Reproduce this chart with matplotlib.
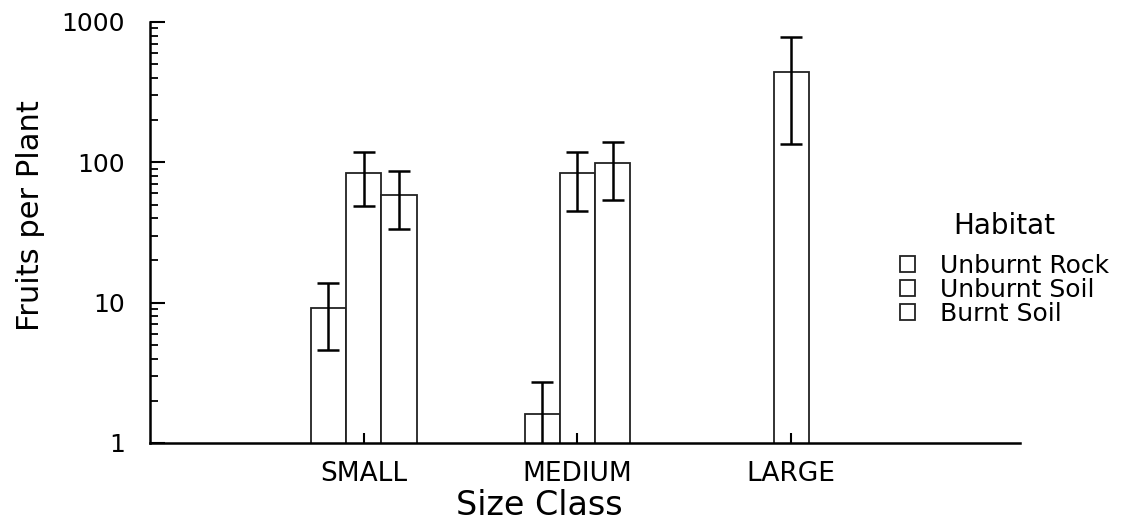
import numpy as np
import matplotlib
matplotlib.use('Agg')
import matplotlib.pyplot as plt

# size classes and habitats
size_classes = ['SMALL', 'MEDIUM', 'LARGE']
habitats = ['Unburnt Rock', 'Unburnt Soil', 'Burnt Soil']

# mean fruits per plant (nan = no plants of that class in that habitat)
rock_mean = [9.2, 1.62, np.nan]
soil_mean = [83.6, 83.6, 439.0]
burnt_mean = [58.9, 98.6, np.nan]

# error bar ends (lower, upper)
rock_lo = [4.6, 0.5, np.nan]
rock_hi = [13.8, 2.73, np.nan]
soil_lo = [49.0, 45.3, 134.6]
soil_hi = [118.0, 118.0, 779.0]
burnt_lo = [33.4, 54.0, np.nan]
burnt_hi = [86.8, 140.0, np.nan]


def main():
    plt.rcParams['font.family'] = 'DejaVu Sans'
    fig = plt.figure(figsize=(11.4, 5.26), dpi=100)
    ax = fig.add_axes([0.1316, 0.1578, 0.763, 0.8004])

    x = np.arange(1, len(size_classes) + 1)
    width = 0.165
    series = [
        (rock_mean, rock_lo, rock_hi, -width),
        (soil_mean, soil_lo, soil_hi, 0.0),
        (burnt_mean, burnt_lo, burnt_hi, width),
    ]

    handles = []
    for (mean, lo, hi, off), name in zip(series, habitats):
        mean = np.array(mean)
        ok = ~np.isnan(mean)
        bars = ax.bar(x[ok] + off, mean[ok], width=width,
                      facecolor='white', edgecolor='#222222', linewidth=1.3,
                      label=name, log=True)
        handles.append(bars)
        yerr = np.array([mean[ok] - np.array(lo)[ok], np.array(hi)[ok] - mean[ok]])
        ax.errorbar(x[ok] + off, mean[ok], yerr=yerr, fmt='none', ecolor='black',
                    elinewidth=1.8, capsize=8, capthick=1.8)

    ax.set_yscale('log')
    ax.set_ylim(1, 1000)
    ax.set_xlim(0, 4.07)

    ax.spines['top'].set_visible(False)
    ax.spines['right'].set_visible(False)
    ax.spines['left'].set_linewidth(1.8)
    ax.spines['bottom'].set_linewidth(1.8)

    ax.set_yticks([1, 10, 100, 1000])
    ax.set_yticklabels(['1', '10', '100', '1000'])
    ax.tick_params(axis='y', which='major', direction='in', length=11, width=1.5,
                   pad=18, labelsize=18, colors='black')
    ax.tick_params(axis='y', which='minor', direction='in', length=6, width=1.3)
    ax.set_xticks(x)
    ax.set_xticklabels(size_classes)
    ax.tick_params(axis='x', direction='in', length=7, width=1.5, pad=13,
                   labelsize=19)

    ax.set_xlabel('Size Class', fontsize=24)
    ax.xaxis.set_label_coords(0.447, -0.11)
    ax.set_ylabel('Fruits per Plant', fontsize=22)
    ax.yaxis.set_label_coords(-0.121, 0.54)

    leg = ax.legend(handles=handles, labels=habitats, title='Habitat',
                    frameon=False, loc='upper left',
                    bbox_to_anchor=(900 / 1140, 1 - 212 / 526),
                    bbox_transform=fig.transFigure,
                    fontsize=18, title_fontsize=20,
                    handlelength=0.6, handleheight=0.6, handletextpad=1.0,
                    labelspacing=0.0, borderaxespad=0, borderpad=0)
    leg._legend_box.sep = 10
    for h in leg.legend_handles:
        h.set_linewidth(1.3)

    fig.savefig('out.png', dpi=100)


if __name__ == '__main__':
    main()
